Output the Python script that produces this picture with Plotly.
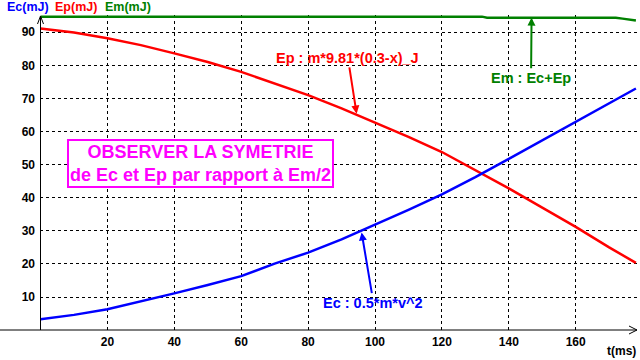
import plotly.graph_objects as go

# ---- data ----
t_ms = [0, 10, 20, 30, 40, 50, 60, 70, 80, 90, 100, 110, 120, 130, 140, 150, 160, 170, 178]
Ep = [91.1, 89.9, 88.2, 86.1, 83.6, 81.0, 78.0, 74.4, 71.0, 67.0, 62.7, 58.4, 53.8, 48.4, 42.8, 37.0, 31.2, 25.0, 20.3]
Ec = [3.3, 4.6, 6.3, 8.6, 11.1, 13.6, 16.3, 20.1, 23.4, 27.4, 31.8, 36.3, 41.0, 46.2, 51.7, 57.3, 63.0, 68.7, 73.0]
t_em = [0, 132, 133.5, 136.5, 137.5, 139.5, 172, 174, 176, 178]
Em = [94.7, 94.7, 94.4, 94.4, 94.6, 94.4, 94.4, 94.1, 93.7, 93.5]

x_ticks = [20, 40, 60, 80, 100, 120, 140, 160]
y_ticks = [10, 20, 30, 40, 50, 60, 70, 80, 90]

FONT = "Liberation Sans, Arial, sans-serif"
BLUE, RED, GREEN, MAG = "#0000FF", "#FF0000", "#008000", "#FF00FF"

fig = go.Figure()
fig.add_trace(go.Scatter(x=t_ms, y=Ep, mode="lines", line=dict(color=RED, width=2.5), name="Ep"))
fig.add_trace(go.Scatter(x=t_ms, y=Ec, mode="lines", line=dict(color=BLUE, width=2.5), name="Ec"))
fig.add_trace(go.Scatter(x=t_em, y=Em, mode="lines", line=dict(color=GREEN, width=2.5), name="Em"))

L, R, T, B = 40, 3, 15, 30
PW, PH = 640 - L - R, 360 - T - B

def px(xp):
    return (xp - L) / PW

def py(yp):
    return (360 - B - yp) / PH

fig.update_layout(
    width=640, height=360,
    margin=dict(l=L, r=R, t=T, b=B),
    paper_bgcolor="white", plot_bgcolor="white",
    showlegend=False,
    font=dict(family=FONT, size=12, color="black"),
    xaxis=dict(range=[-0.15, -0.15 + PW / 3.345], tickvals=x_ticks,
               ticktext=[f"<b>{v}</b>" for v in x_ticks],
               showgrid=True, gridcolor="black", griddash="3px,3px", gridwidth=1,
               zeroline=False, showline=False, ticks="", ticklabelstandoff=3,
               tickfont=dict(size=12, family=FONT, color="black")),
    yaxis=dict(range=[0.03, 0.03 + PH / 3.31], tickvals=y_ticks,
               ticktext=[f"<b>{v}</b>" for v in y_ticks],
               showgrid=True, gridcolor="black", griddash="3px,3px", gridwidth=1,
               zeroline=False, showline=False, ticks="", ticklabelstandoff=4,
               tickfont=dict(size=12, family=FONT, color="black")),
)

# axes with arrows
line_k = dict(color="black", width=1)
fig.add_shape(type="line", xref="paper", yref="paper", x0=px(0), x1=px(637), y0=0, y1=0, line=line_k)
fig.add_shape(type="path", xref="paper", yref="paper",
              path=f"M {px(629)} {py(326)} L {px(637)} {py(330)} L {px(629)} {py(334)}", line=line_k)
fig.add_shape(type="line", xref="paper", yref="paper", x0=px(40.5), x1=px(40.5), y0=0, y1=py(17), line=line_k)
fig.add_shape(type="path", xref="paper", yref="paper",
              path=f"M {px(37.5)} {py(24)} L {px(40.5)} {py(16)} L {px(43.5)} {py(24)}", line=line_k)

# axis titles
for txt, col, xl in [("Ec(mJ)", BLUE, 5), ("Ep(mJ)", RED, 53), ("Em(mJ)", GREEN, 103)]:
    fig.add_annotation(text=f"<b>{txt}</b>", xref="paper", yref="paper", x=px(xl), y=py(7),
                       xanchor="left", yanchor="middle", showarrow=False,
                       font=dict(size=12.5, color=col, family=FONT))
fig.add_annotation(text="<b>t(ms)</b>", xref="paper", yref="paper", x=px(621.5), y=py(350.5),
                   xanchor="center", yanchor="middle", showarrow=False,
                   font=dict(size=12, color="black", family=FONT))

# curve labels with arrows
fig.add_annotation(text="<b>Ep : m*9.81*(0.3-x)_J</b>", x=94.5, y=65.4, ax=-8.7, ay=-55.7,
                   showarrow=True, arrowhead=2, arrowsize=0.8, arrowwidth=2, arrowcolor=RED,
                   font=dict(size=14.5, color=RED, family=FONT))
fig.add_annotation(text="<b>Ec : 0.5*m*v^2</b>", x=96.0, y=29.5, ax=11.8, ay=70.2,
                   showarrow=True, arrowhead=2, arrowsize=0.8, arrowwidth=2, arrowcolor=BLUE,
                   font=dict(size=14.5, color=BLUE, family=FONT))
fig.add_annotation(text="<b>Em : Ec+Ep</b>", x=146.8, y=94.4, ax=-0.5, ay=60,
                   showarrow=True, arrowhead=2, arrowsize=0.8, arrowwidth=2, arrowcolor=GREEN,
                   font=dict(size=14.5, color=GREEN, family=FONT))

# boxed note
fig.add_annotation(text="<b>OBSERVER LA SYMETRIE</b><br><b>de Ec et Ep par rapport à Em/2</b>",
                   x=47.8, y=50.2, xanchor="center", yanchor="middle", showarrow=False,
                   bordercolor=MAG, borderwidth=2, borderpad=1, height=43,
                   font=dict(size=18, color=MAG, family=FONT), bgcolor="white")

fig.write_html("out.html")
